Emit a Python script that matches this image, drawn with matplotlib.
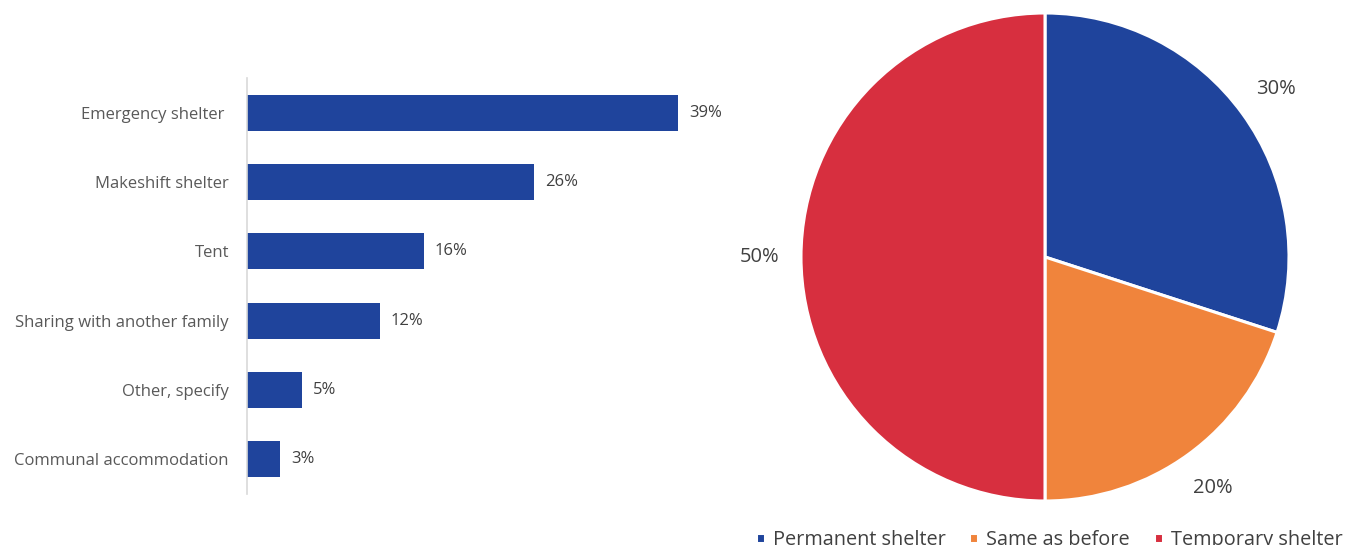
import matplotlib
matplotlib.use("Agg")
import matplotlib.pyplot as plt

plt.rcParams['font.family'] = ['Open Sans', 'DejaVu Sans']

# Shelter type (bar chart)
categories = ["Emergency shelter ", "Makeshift shelter", "Tent",
              "Sharing with another family", "Other, specify",
              "Communal accommodation"]
shares = [39, 26, 16, 12, 5, 3]

# Shelter situation (pie chart)
pie_labels = ["Permanent shelter", "Same as before", "Temporary shelter"]
pie_values = [30, 20, 50]

BLUE = "#1F449C"
ORANGE = "#F0843C"
RED = "#D72F3F"
TEXT = "#404040"
LABEL = "#595959"

fig = plt.figure(figsize=(13.46, 5.45), dpi=100)
W, H = 1346, 545

# --- bar chart ---
ax = fig.add_axes([247 / W, (H - 494) / H, 453 / W, 416 / H])
ypos = list(range(len(categories)))
bars = ax.barh(ypos, shares, height=0.52, color=BLUE)
ax.set_ylim(len(categories) - 0.5, -0.5)
ax.set_xlim(0, 41)
ax.set_yticks(ypos)
ax.set_yticklabels(categories, fontsize=12, color=LABEL)
ax.tick_params(axis='y', length=0, pad=13)
ax.set_xticks([])
for s in ("top", "right", "bottom"):
    ax.spines[s].set_visible(False)
ax.spines["left"].set_color("#D9D9D9")
ax.spines["left"].set_linewidth(1.2)
ax.bar_label(bars, labels=[f"{v}%" for v in shares], padding=8,
             fontsize=12, color=TEXT)

# --- pie chart ---
pax = fig.add_axes([801 / W, 44 / H, 488 / W, 488 / H])
wedges, _, autotexts = pax.pie(
    pie_values, colors=[BLUE, ORANGE, RED], startangle=90, counterclock=False,
    autopct=lambda p: f"{p:.0f}%", pctdistance=1.17,
    wedgeprops=dict(edgecolor="white", linewidth=2.2),
    textprops=dict(fontsize=14.5, color=TEXT))
pax.set_xlim(-1, 1)
pax.set_ylim(-1, 1)
pax.set_aspect("equal")

fig.legend(wedges, pie_labels, loc="center left", bbox_to_anchor=(738 / W, 5 / H),
           ncol=3, frameon=False, fontsize=14.3, handlelength=0.45, handleheight=0.45,
           columnspacing=1.2, handletextpad=0.4, labelcolor=TEXT)

fig.savefig("out.png", dpi=100)
